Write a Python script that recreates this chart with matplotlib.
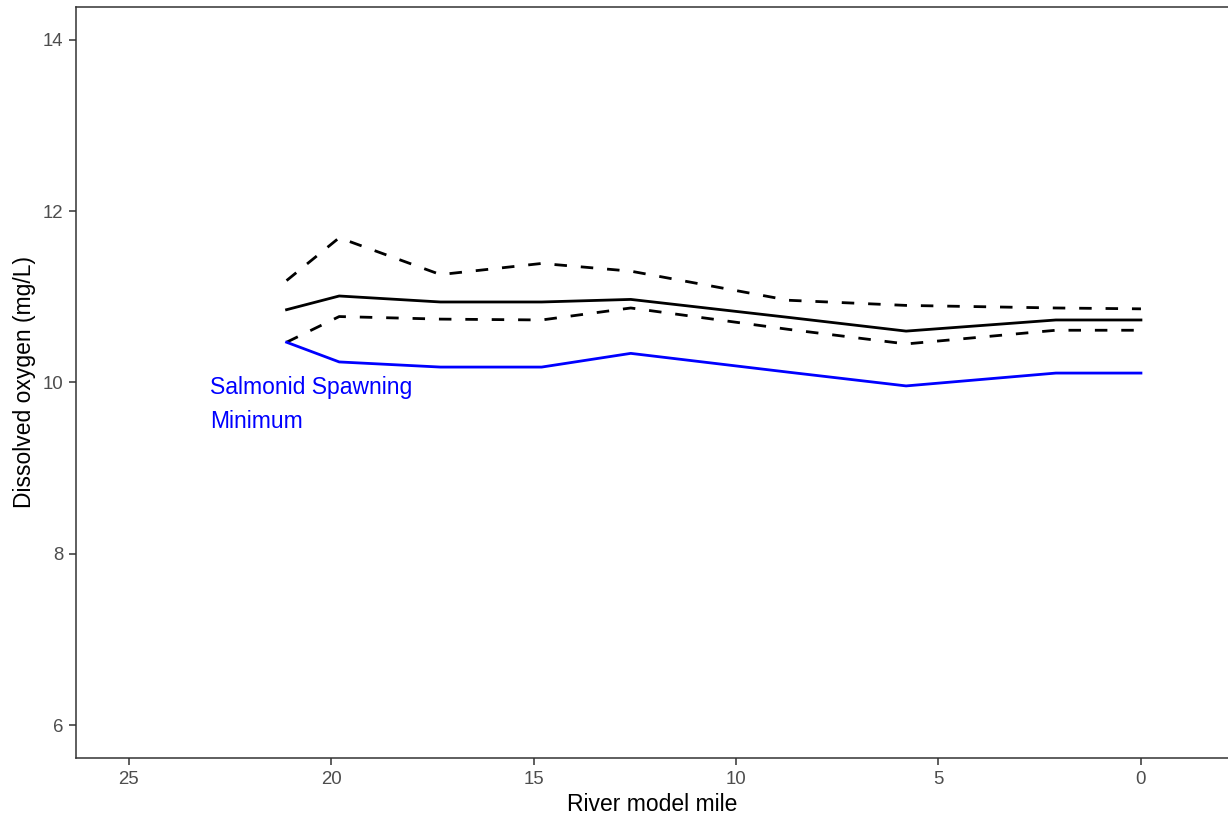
import matplotlib
matplotlib.use("Agg")
import matplotlib.pyplot as plt

plt.rcParams['font.family'] = ['Liberation Sans', 'DejaVu Sans']

# river model mile of each profile point
mile = [21.1, 19.8, 17.3, 14.8, 12.6, 8.7, 5.8, 2.1, 0.0]

# dissolved oxygen (mg/L)
do_mean = [10.85, 11.01, 10.94, 10.94, 10.97, 10.76, 10.60, 10.73, 10.73]
do_upper = [11.19, 11.69, 11.26, 11.39, 11.30, 10.96, 10.90, 10.87, 10.86]
do_lower = [10.47, 10.77, 10.74, 10.73, 10.87, 10.62, 10.45, 10.61, 10.61]
spawn_min = [10.47, 10.24, 10.18, 10.18, 10.34, 10.12, 9.96, 10.11, 10.11]

x_ticks = [25, 20, 15, 10, 5, 0]
y_ticks = [6, 8, 10, 12, 14]

fig = plt.figure(figsize=(12.28, 8.15), dpi=100)
ax = fig.add_axes([0.0619, 0.0699, 0.9381, 0.9221])

lw = 2.0
ax.plot(mile, do_mean, color='black', lw=lw)
ax.plot(mile, do_upper, color='black', lw=lw, dashes=(4.5, 5))
ax.plot(mile, do_lower, color='black', lw=lw, dashes=(4.5, 5))
ax.plot(mile, spawn_min, color='#0000FF', lw=lw)

ax.text(23.0, 9.74, 'Salmonid Spawning\nMinimum', color='#0000FF',
        fontsize=16.5, ha='left', va='center', linespacing=1.6)

ax.set_xlim(26.3, -2.15)
ax.set_ylim(5.615, 14.39)
ax.set_xticks(x_ticks)
ax.set_yticks(y_ticks)

ax.set_xlabel('River model mile', fontsize=16.5, color='black', labelpad=4)
ax.set_ylabel('Dissolved oxygen (mg/L)', fontsize=16.5, color='black', labelpad=5)

ax.tick_params(axis='both', labelsize=13.4, labelcolor='#4D4D4D',
               color='#333333', length=5, width=1.1, pad=4)

for side in ['left', 'bottom', 'top']:
    ax.spines[side].set_color('#333333')
    ax.spines[side].set_linewidth(1.1)
ax.spines['right'].set_visible(False)

fig.savefig('out.png', dpi=100)
